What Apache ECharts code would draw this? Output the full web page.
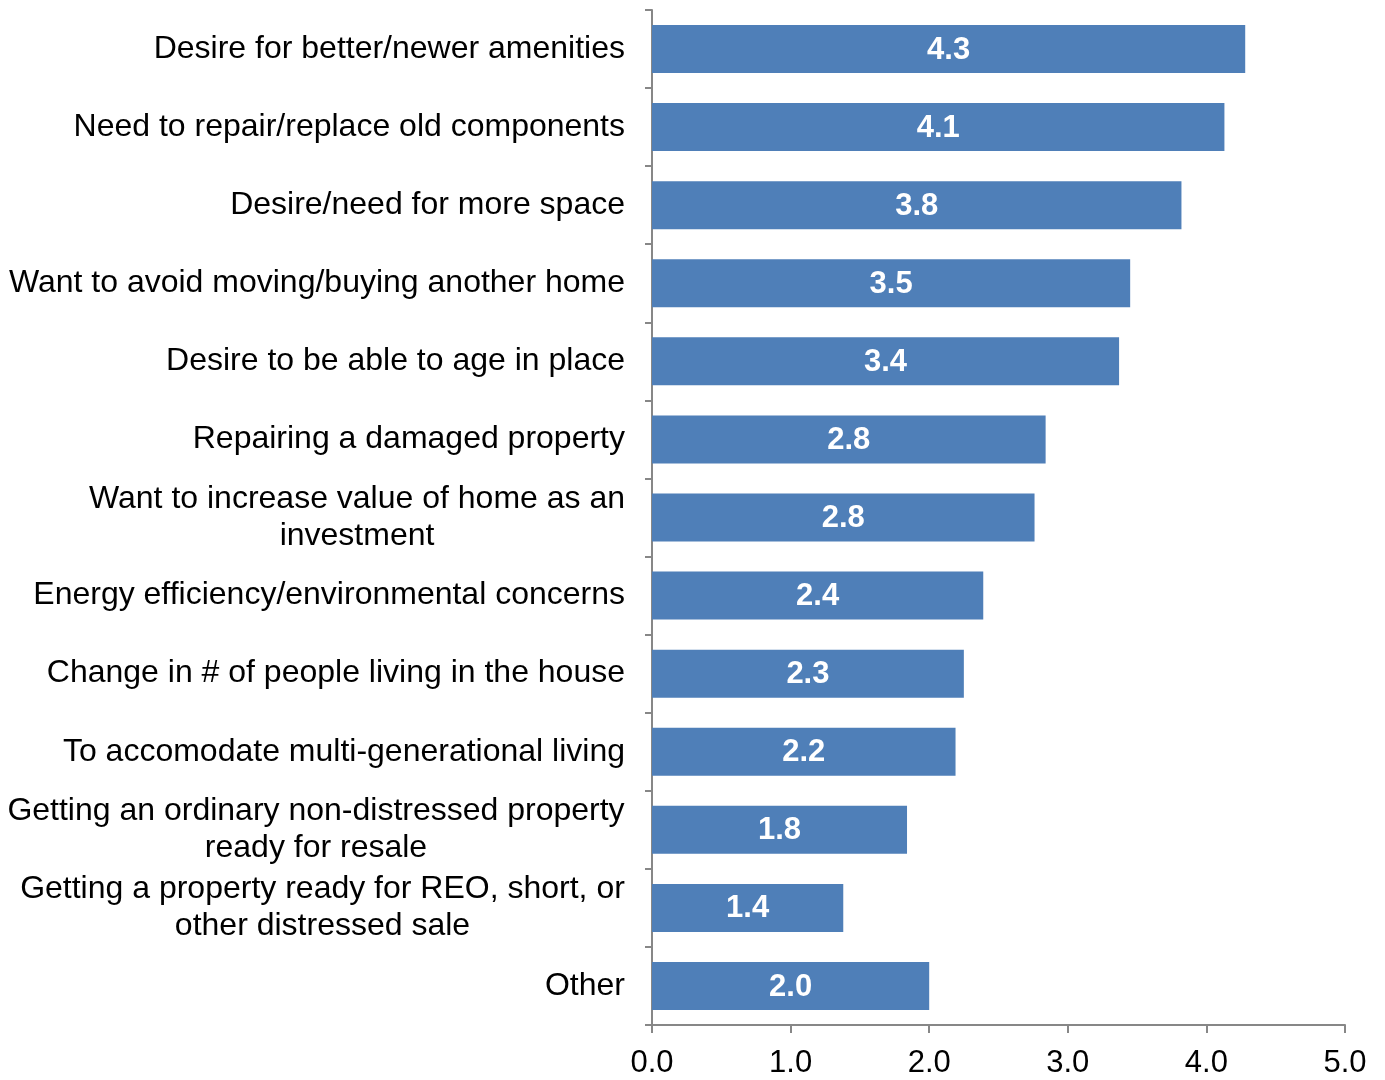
<!DOCTYPE html>
<html><head><meta charset="utf-8">
<script src="https://cdn.jsdelivr.net/npm/echarts@6/dist/echarts.min.js"></script>
<style>html,body{margin:0;padding:0;background:#fff}#c{width:1385px;height:1080px}</style>
</head><body><div id="c"></div>
<script>
const categories = [
  "Desire for better/newer amenities",
  "Need to repair/replace old components",
  "Desire/need for more space",
  "Want to avoid moving/buying another home",
  "Desire to be able to age in place",
  "Repairing a damaged property",
  "Want to increase value of home as an\ninvestment",
  "Energy efficiency/environmental concerns",
  "Change in # of people living in the house",
  "To accomodate multi-generational living",
  "Getting an ordinary non-distressed property\nready for resale",
  "Getting a property ready for REO, short, or\nother distressed sale",
  "Other"
];
const values = [4.28, 4.13, 3.82, 3.45, 3.37, 2.84, 2.76, 2.39, 2.25, 2.19, 1.84, 1.38, 2.0];
const xTicks = [0, 1, 2, 3, 4, 5];

const FONT = "Liberation Sans, Arial, sans-serif";
const FS = 32;
const cv = document.createElement('canvas').getContext('2d');
cv.font = FS + "px " + FONT;
const rich = {};
categories.forEach((c, i) => {
  const lines = c.split('\n');
  if (lines.length > 1) {
    const w = Math.max(...lines.map(l => cv.measureText(l).width));
    rich['c' + i] = { width: Math.ceil(w), align: 'center', fontSize: FS, fontFamily: FONT, color: '#000', lineHeight: 37 };
  }
});

const chart = echarts.init(document.getElementById('c'), null, {renderer: 'canvas'});
chart.setOption({
  animation: false,
  backgroundColor: '#fff',
  grid: { left: 652, right: 40, top: 10, bottom: 55, containLabel: false },
  xAxis: {
    type: 'value', min: xTicks[0], max: xTicks[xTicks.length - 1], interval: 1,
    axisLine: { show: true, lineStyle: { color: '#878787', width: 2 } },
    axisTick: { show: true, length: 8, lineStyle: { color: '#878787', width: 2 } },
    splitLine: { show: false },
    axisLabel: { margin: 23, fontSize: 31, fontFamily: FONT, color: '#000', formatter: v => v.toFixed(1) }
  },
  yAxis: {
    type: 'category', data: categories, inverse: true,
    axisLine: { show: true, lineStyle: { color: '#878787', width: 2 } },
    axisTick: { show: true, length: 7, lineStyle: { color: '#878787', width: 2 } },
    axisLabel: {
      margin: 27, fontSize: FS, fontFamily: FONT, color: '#000', lineHeight: 37,
      formatter: (v, i) => {
        const lines = v.split('\n');
        if (lines.length > 1) return lines.map(l => '{c' + i + '|' + l + '}').join('\n');
        return v;
      },
      rich: rich
    }
  },
  series: [{
    type: 'bar', data: values, barWidth: 48,
    itemStyle: { color: '#4f7fb8' },
    label: { show: true, position: 'inside', color: '#fff', fontWeight: 'bold', fontSize: 31, fontFamily: FONT,
      offset: [0, 1], formatter: p => p.value.toFixed(1) }
  }]
});
</script></body></html>
